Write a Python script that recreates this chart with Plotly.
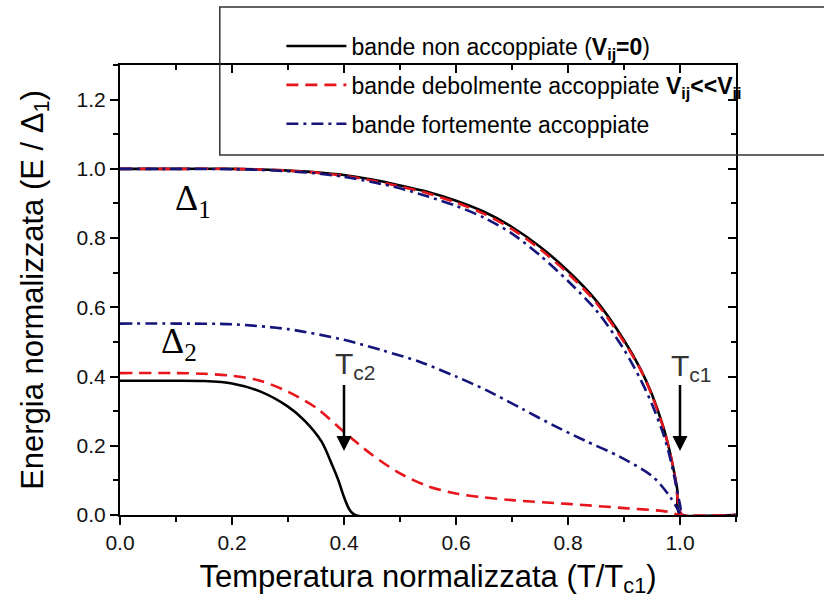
import plotly.graph_objects as go

# ---- data ----
t_none1 = [0, 0.1, 0.2, 0.25, 0.3, 0.35, 0.4, 0.45, 0.5, 0.55, 0.6, 0.65, 0.7, 0.75, 0.8, 0.85, 0.9, 0.93, 0.95, 0.97, 0.98, 0.99, 0.995, 1.0, 1.1]
gap_none1 = [1.0, 1.0, 1.0, 0.998, 0.995, 0.99, 0.982, 0.969, 0.952, 0.933, 0.908, 0.876, 0.832, 0.775, 0.705, 0.62, 0.505, 0.42, 0.348, 0.255, 0.195, 0.12, 0.075, 0.0, 0.0]

t_none2 = [0, 0.1, 0.15, 0.2, 0.25, 0.3, 0.33, 0.36, 0.38, 0.39, 0.4, 0.41, 0.42, 1.1]
gap_none2 = [0.388, 0.388, 0.387, 0.38, 0.357, 0.313, 0.272, 0.212, 0.14, 0.10, 0.052, 0.015, 0.0, 0.0]

t_weak1 = [0, 0.1, 0.2, 0.25, 0.3, 0.35, 0.4, 0.45, 0.5, 0.55, 0.6, 0.65, 0.7, 0.75, 0.8, 0.85, 0.9, 0.93, 0.95, 0.97, 0.98, 0.99, 1.0, 1.005, 1.1]
gap_weak1 = [1.0, 1.0, 1.0, 0.998, 0.995, 0.989, 0.98, 0.966, 0.949, 0.929, 0.903, 0.87, 0.826, 0.768, 0.698, 0.614, 0.5, 0.418, 0.345, 0.253, 0.195, 0.12, 0.01, 0.0, 0.0]

t_weak2 = [0, 0.1, 0.15, 0.2, 0.25, 0.3, 0.35, 0.4, 0.45, 0.5, 0.55, 0.6, 0.65, 0.7, 0.8, 0.9, 0.976, 1.0, 1.1]
gap_weak2 = [0.41, 0.41, 0.408, 0.402, 0.388, 0.356, 0.31, 0.24, 0.174, 0.12, 0.083, 0.062, 0.051, 0.043, 0.032, 0.02, 0.01, 0.0, 0.0]

t_strong1 = [0, 0.1, 0.2, 0.25, 0.3, 0.35, 0.4, 0.45, 0.5, 0.55, 0.6, 0.65, 0.7, 0.75, 0.8, 0.85, 0.9, 0.93, 0.95, 0.97, 0.98, 0.99, 1.0, 1.005, 1.1]
gap_strong1 = [1.0, 1.0, 0.999, 0.997, 0.993, 0.987, 0.977, 0.962, 0.944, 0.92, 0.893, 0.859, 0.813, 0.75, 0.676, 0.592, 0.478, 0.39, 0.32, 0.235, 0.18, 0.11, 0.03, 0.0, 0.0]

t_strong2 = [0, 0.1, 0.2, 0.3, 0.4, 0.47, 0.536, 0.6, 0.655, 0.72, 0.774, 0.83, 0.893, 0.952, 0.982, 1.0]
gap_strong2 = [0.553, 0.553, 0.551, 0.537, 0.506, 0.475, 0.442, 0.40, 0.36, 0.305, 0.259, 0.215, 0.168, 0.11, 0.053, 0.005]

legend_names = [
    "bande non accoppiate (<b>V</b><sub><b>ij</b></sub><b>=0</b>)",
    "bande debolmente accoppiate <b>V</b><sub><b>ij</b></sub><b>&lt;&lt;V</b><sub><b>ii</b></sub>",
    "bande fortemente accoppiate",
]

x_ticks = [0.0, 0.2, 0.4, 0.6, 0.8, 1.0]
y_ticks = [0.0, 0.2, 0.4, 0.6, 0.8, 1.0, 1.2]

BLACK = "#000000"
RED = "#e8161c"
BLUE = "#14147a"

fig = go.Figure()

styles = [
    (t_none1, gap_none1, t_none2, gap_none2, dict(color=BLACK, width=2.6, dash="solid", shape="spline", smoothing=0.8)),
    (t_weak1, gap_weak1, t_weak2, gap_weak2, dict(color=RED, width=2.6, dash="12px,7px", shape="spline", smoothing=0.8)),
    (t_strong1, gap_strong1, t_strong2, gap_strong2, dict(color=BLUE, width=2.6, dash="12px,5px,3px,5px", shape="spline", smoothing=0.8)),
]
for i, (tx1, g1, tx2, g2, ln) in enumerate(styles):
    grp = f"g{i}"
    fig.add_trace(go.Scatter(x=tx1, y=g1, mode="lines", line=ln, name=legend_names[i],
                             legendgroup=grp))
    fig.add_trace(go.Scatter(x=tx2, y=g2, mode="lines", line=ln, name=legend_names[i],
                             legendgroup=grp, showlegend=False))

# invisible trace to hold the mirrored axes
fig.add_trace(go.Scatter(x=[None], y=[None], xaxis="x2", yaxis="y2", showlegend=False, hoverinfo="skip"))

font_main = "Liberation Sans, Arial, sans-serif"

axis_common = dict(showline=True, linecolor="black", linewidth=2, showgrid=False, zeroline=False,
                   ticks="outside", ticklen=8, tickwidth=1.5, tickcolor="black")
minor_out = dict(ticks="outside", dtick=0.1, tick0=0, ticklen=5, tickwidth=1.5, tickcolor="black")
minor_in = dict(ticks="inside", dtick=0.1, tick0=0, ticklen=5, tickwidth=1.5, tickcolor="black")

fig.update_layout(
    width=824, height=603,
    margin=dict(l=120, r=88, t=65, b=88),
    paper_bgcolor="white", plot_bgcolor="white",
    font=dict(family=font_main, color="black"),
    xaxis=dict(range=[0, 1.1], tickvals=x_ticks, ticktext=[f"{v:.1f}" for v in x_ticks],
               tickfont=dict(size=21, color="#111111"), title=dict(text="Temperatura normalizzata (T/T<sub>c1</sub>)",
               font=dict(size=31), standoff=12),
               minor=minor_out, **axis_common),
    yaxis=dict(range=[0, 1.3], tickvals=y_ticks, ticktext=[f"{v:.1f}" for v in y_ticks],
               tickfont=dict(size=21, color="#111111"), title=dict(text="Energia normalizzata (E / Δ<sub>1</sub>)",
               font=dict(size=31), standoff=24),
               minor=minor_out, **axis_common),
    xaxis2=dict(range=[0, 1.1], overlaying="x", side="top", showticklabels=False, showline=True,
                linecolor="black", linewidth=2, showgrid=False, zeroline=False, ticks="inside",
                tickvals=x_ticks, ticklen=8, tickwidth=1.5, tickcolor="black", minor=minor_in),
    yaxis2=dict(range=[0, 1.3], overlaying="y", side="right", showticklabels=False, showline=True,
                linecolor="black", linewidth=2, showgrid=False, zeroline=False, ticks="inside",
                tickvals=y_ticks, ticklen=8, tickwidth=1.5, tickcolor="black", minor=minor_in),
    legend=dict(x=0.262, y=1.09, xanchor="left", yanchor="top", bgcolor="rgba(0,0,0,0)",
                borderwidth=0, font=dict(size=23, family=font_main), itemwidth=60,
                tracegroupgap=6),
    showlegend=True,
)

# legend frame (extends past the right edge like the reference)
fig.add_shape(type="rect", xref="paper", yref="paper", x0=0.162, x1=1.25, y0=0.8, y1=1.129,
              line=dict(color="#333333", width=1.5), fillcolor="rgba(0,0,0,0)", layer="above")

# labels
serif = "Liberation Serif, Times New Roman, serif"
fig.add_annotation(x=0.13, y=0.91, xref="x", yref="y", text="Δ<sub>1</sub>", showarrow=False,
                   font=dict(family=serif, size=36, color="black"))
fig.add_annotation(x=0.105, y=0.495, xref="x", yref="y", text="Δ<sub>2</sub>", showarrow=False,
                   font=dict(family=serif, size=36, color="black"))
fig.add_annotation(x=0.42, y=0.432, xref="x", yref="y", text="T<sub>c2</sub>", showarrow=False,
                   font=dict(family=font_main, size=30, color="#333333"))
fig.add_annotation(x=1.02, y=0.425, xref="x", yref="y", text="T<sub>c1</sub>", showarrow=False,
                   font=dict(family=font_main, size=30, color="#333333"))

# arrows
for xa in [0.4, 1.0]:
    fig.add_annotation(x=xa, y=0.185, ax=xa, ay=0.38, xref="x", yref="y", axref="x", ayref="y",
                       text="", showarrow=True, arrowhead=2, arrowsize=1.2, arrowwidth=2.5,
                       arrowcolor="black", standoff=0, startstandoff=0)

fig.write_html("out.html")
